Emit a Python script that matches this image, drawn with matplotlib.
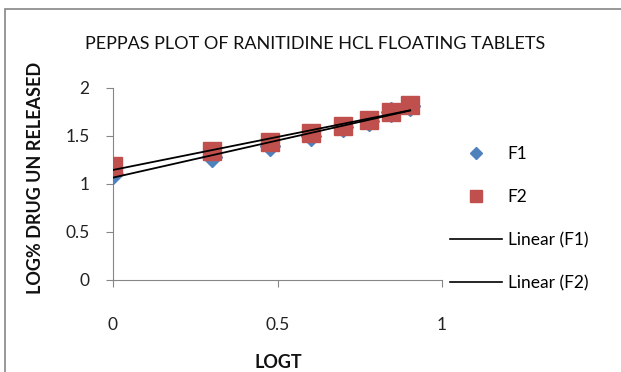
import numpy as np
import matplotlib.pyplot as plt
from matplotlib.lines import Line2D
from matplotlib.patches import Rectangle

# log time (hours 1..8)
log_t = [0.0, 0.301, 0.477, 0.602, 0.699, 0.778, 0.845, 0.903]
f1_log_unreleased = [1.107, 1.286, 1.400, 1.503, 1.590, 1.652, 1.745, 1.814]
f2_log_unreleased = [1.187, 1.342, 1.438, 1.528, 1.607, 1.666, 1.749, 1.821]

x_ticks = [0, 0.5, 1]
y_ticks = [0, 0.5, 1, 1.5, 2]

BLUE = "#4F81BD"
RED = "#C0504D"
GRAY = "#868686"

plt.rcParams["font.family"] = ["Lato", "DejaVu Sans"]

fig = plt.figure(figsize=(6.21, 3.72), dpi=100)
fig.patches.append(Rectangle((5 / 621, -0.1), 1.2, 1 - 9 / 372 + 0.1,
                             transform=fig.transFigure, fill=False,
                             edgecolor=GRAY, linewidth=1.2))

ax = fig.add_axes([113 / 621, 1 - 280 / 372, 329 / 621, 192 / 372])

ax.plot(log_t, f1_log_unreleased, linestyle="none", marker="D", markersize=10,
        color=BLUE, zorder=3)
ax.plot(log_t, f2_log_unreleased, linestyle="none", marker="s", markersize=13.5,
        color=RED, zorder=4)

# linear trendlines
xs = np.array([min(log_t), max(log_t)])
for series in (f1_log_unreleased, f2_log_unreleased):
    k, b = np.polyfit(log_t, series, 1)
    ax.plot(xs, k * xs + b, color="black", linewidth=1.3, zorder=5)

ax.set_xlim(0, 1)
ax.set_ylim(0, 2)
ax.set_xticks(x_ticks)
ax.set_xticklabels(["0", "0.5", "1"])
ax.set_yticks(y_ticks)
ax.set_yticklabels(["0", "0.5", "1", "1.5", "2"])
for side in ("top", "right"):
    ax.spines[side].set_visible(False)
for side in ("left", "bottom"):
    ax.spines[side].set_color(GRAY)
ax.tick_params(direction="out", length=5, color=GRAY, labelsize=12.5,
               labelcolor="#222222")
ax.tick_params(axis="x", pad=22)
ax.tick_params(axis="y", pad=12)

fig.text(315 / 621, 1 - 44 / 372,
         "PEPPAS PLOT OF RANITIDINE HCL FLOATING TABLETS",
         ha="center", va="center", fontsize=13, color="#111111")
fig.text(278 / 621, 1 - 362 / 372, "LOGT", ha="center", va="center",
         fontsize=13, fontweight="bold", color="#111111")
fig.text(36 / 621, 1 - 178 / 372, "LOG% DRUG UN RELEASED", rotation=90,
         ha="center", va="center", fontsize=13, fontweight="bold",
         color="#111111")

handles = [
    Line2D([], [], linestyle="none", marker="D", markersize=6.5, color=BLUE),
    Line2D([], [], linestyle="none", marker="s", markersize=8, color=RED),
    Line2D([], [], color="black", linewidth=1.2),
    Line2D([], [], color="black", linewidth=1.2),
]
fig.legend(handles, ["F1", "F2", "Linear (F1)", "Linear (F2)"],
           loc="center left", bbox_to_anchor=(434 / 621, 1 - 218.5 / 372),
           frameon=False, fontsize=12.5, labelspacing=1.55,
           handlelength=3.0, handletextpad=0.35)

fig.savefig("out.png", dpi=100)
